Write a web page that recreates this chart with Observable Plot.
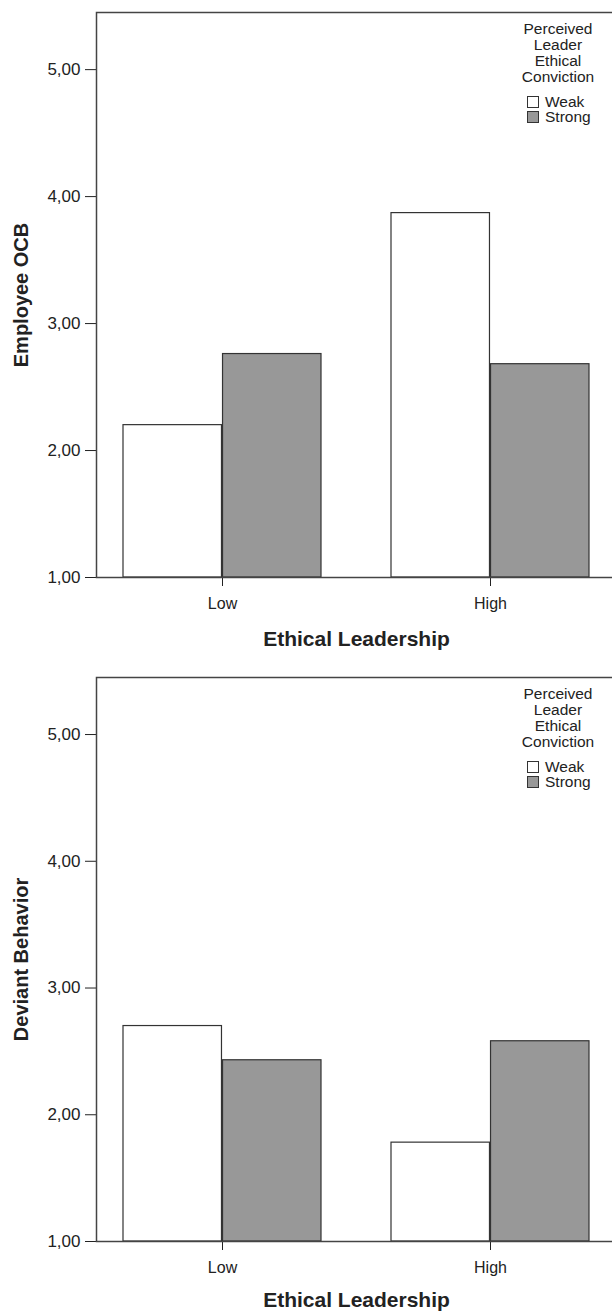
<!DOCTYPE html>
<html><head><meta charset="utf-8">
<script src="https://cdn.jsdelivr.net/npm/d3@7"></script>
<script src="https://cdn.jsdelivr.net/npm/@observablehq/plot@0.6"></script>
<style>
html,body{margin:0;padding:0;background:#fff;overflow:hidden;width:612px;height:1312px;}
.panel{position:relative;width:620px;}
.panel svg{display:block;overflow:visible;}
.legend{position:absolute;font-family:"Liberation Sans",Arial,sans-serif;font-size:15.5px;color:#222;line-height:16px;}
.legend .ttl{text-align:center;height:16px;white-space:nowrap;}
.legend .row{display:flex;align-items:center;height:15.5px;white-space:nowrap;}
.legend .sw{width:12px;height:12px;border:1px solid #333;margin-right:6px;box-sizing:border-box;flex:none;}
g[aria-label="x-axis label"] text, g[aria-label="y-axis label"] text{font-weight:bold;}
g[aria-label="x-axis label"] text{font-size:21px;}
g[aria-label="y-axis label"] text{font-size:20px;}
g[aria-label="y-axis tick label"] text{font-size:17px;}
</style>
</head><body>
<div id="p1" class="panel"></div>
<div id="p2" class="panel"></div>
<script>
// ---- data ----
const groups = ["Low", "High"];
const series = ["Weak", "Strong"];
const ocbWeak = [2.20, 3.87];
const ocbStrong = [2.76, 2.68];
const devWeak = [2.70, 1.78];
const devStrong = [2.43, 2.58];
const yTicks = [1, 2, 3, 4, 5];
const legendTitle = ["Perceived", "Leader", "Ethical", "Conviction"];
const xTitle = "Ethical Leadership";
const fills = {Weak: "#ffffff", Strong: "#989898"};

// ---- layout ----
const W = 620, ML = 96, MR = 4;
const PI = 0.26, PO = 0.0966;
const step = (W - ML - MR) / (groups.length - PI + 2 * PO);
const bw = step * (1 - PI);

function rows(weak, strong) {
  const out = [];
  groups.forEach((g, i) => {
    out.push({group: g, series: "Weak", value: weak[i]});
    out.push({group: g, series: "Strong", value: strong[i]});
  });
  return out;
}

function panel(el, weak, strong, yLabel, h, mt, mb, xLabelOffset) {
  const data = rows(weak, strong);
  const chart = Plot.plot({
    width: W, height: h,
    marginLeft: ML, marginRight: MR, marginTop: mt, marginBottom: mb,
    style: {fontFamily: "'Liberation Sans', Arial, sans-serif", fontSize: "16px", color: "#222", background: "#fff", overflow: "visible"},
    x: {type: "band", domain: groups, paddingInner: PI, paddingOuter: PO,
        tickSize: 9, tickPadding: 11, label: xTitle, labelAnchor: "center", labelOffset: xLabelOffset, labelArrow: "none"},
    y: {domain: [1, 5.45], ticks: yTicks, tickSize: 11, tickPadding: 5,
        tickFormat: d => d.toFixed(2).replace(".", ","),
        label: yLabel, labelAnchor: "center", labelOffset: 83, labelArrow: "none"},
    marks: [
      Plot.barY(data.filter(d => d.series === "Weak"), {x: "group", y1: 1, y2: "value", fill: fills.Weak, stroke: "#333", strokeWidth: 1.2, insetLeft: 0, insetRight: bw / 2}),
      Plot.barY(data.filter(d => d.series === "Strong"), {x: "group", y1: 1, y2: "value", fill: fills.Strong, stroke: "#333", strokeWidth: 1.2, insetLeft: bw / 2, insetRight: 0}),
      Plot.frame({stroke: "#444", strokeWidth: 1.5})
    ]
  });
  el.appendChild(chart);
  const lg = document.createElement("div");
  lg.className = "legend";
  lg.style.left = "518px";
  lg.style.top = (mt + 9) + "px";
  lg.style.width = "80px";
  let html = legendTitle.map(t => `<div class="ttl">${t}</div>`).join("");
  html += `<div style="height:9px"></div>`;
  html += series.map(s => `<div class="row" style="padding-left:9px"><span class="sw" style="background:${fills[s]}"></span>${s}</div>`).join("");
  lg.innerHTML = html;
  el.appendChild(lg);
}

panel(document.getElementById("p1"), ocbWeak, ocbStrong, "Employee OCB", 660, 12, 83, 68);
panel(document.getElementById("p2"), devWeak, devStrong, "Deviant Behavior", 652, 17, 71, 65);
</script>
</body></html>
